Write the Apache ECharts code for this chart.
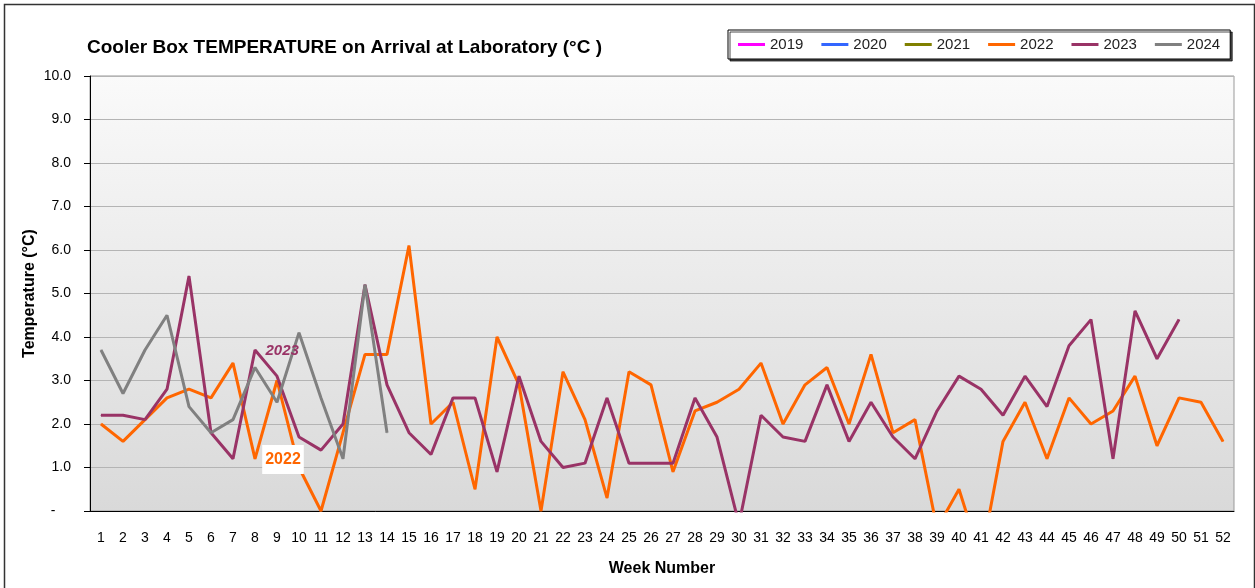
<!DOCTYPE html>
<html>
<head>
    <meta charset="utf-8">
    <title>Cooler Box Temperature</title>
    <script src="https://cdn.jsdelivr.net/npm/echarts@6/dist/echarts.min.js"></script>
    <style>
        html, body { margin: 0; padding: 0; background: #fff; }
    </style>
</head>
<body>
    <div id="main" style="width:1255px;height:588px;"></div>
    <script type="text/javascript">
        // week numbers 1..52
        var weeks = [];
        for (var w = 1; w <= 52; w++) weeks.push(String(w));

        var years = ['2019', '2020', '2021', '2022', '2023', '2024'];
        var yearColors = ['#FF00FF', '#3366FF', '#808000', '#FF6600', '#993366', '#808080'];

        // no readings for 2019-2021 in this chart
        var temp2019 = [];
        var temp2020 = [];
        var temp2021 = [];
        var temp2022 = [2.0, 1.6, 2.1, 2.6, 2.8, 2.6, 3.4, 1.2, 3.0, 1.0,
                        0.0, 1.8, 3.6, 3.6, 6.1, 2.0, 2.5, 0.5, 4.0, 2.9,
                        0.0, 3.2, 2.1, 0.3, 3.2, 2.9, 0.9, 2.3, 2.5, 2.8,
                        3.4, 2.0, 2.9, 3.3, 2.0, 3.6, 1.8, 2.1, -0.4, 0.5,
                        -1.1, 1.6, 2.5, 1.2, 2.6, 2.0, 2.3, 3.1, 1.5, 2.6,
                        2.5, 1.6];
        var temp2023 = [2.2, 2.2, 2.1, 2.8, 5.4, 1.8, 1.2, 3.7, 3.1, 1.7,
                        1.4, 2.0, 5.2, 2.9, 1.8, 1.3, 2.6, 2.6, 0.9, 3.1,
                        1.6, 1.0, 1.1, 2.6, 1.1, 1.1, 1.1, 2.6, 1.7, -0.3,
                        2.2, 1.7, 1.6, 2.9, 1.6, 2.5, 1.7, 1.2, 2.3, 3.1,
                        2.8, 2.2, 3.1, 2.4, 3.8, 4.4, 1.2, 4.6, 3.5, 4.4];
        var temp2024 = [3.7, 2.7, 3.7, 4.5, 2.4, 1.8, 2.1, 3.3, 2.5, 4.1,
                        2.6, 1.2, 5.2, 1.8];

        var yTicks = [0, 1, 2, 3, 4, 5, 6, 7, 8, 9, 10];

        var font = 'Liberation Sans';
        var allData = [temp2019, temp2020, temp2021, temp2022, temp2023, temp2024];

        // point labels naming the series, as in the original sheet
        function withLabel(arr, idx, label) {
            return arr.map(function (v, i) {
                return i === idx ? { value: v, label: label } : v;
            });
        }
        allData[3] = withLabel(temp2022, 9, {
            show: true, formatter: '2022', position: 'inside', offset: [-16, -8],
            color: '#FF6600', fontWeight: 'bold', fontSize: 16, fontFamily: font,
            backgroundColor: '#ffffff', padding: [7, 3, 6, 3]
        });
        allData[4] = withLabel(temp2023, 7, {
            show: true, formatter: '2023', position: 'right', distance: 10, offset: [0, 1],
            color: '#993366', fontWeight: 'bold', fontStyle: 'italic', fontSize: 15, fontFamily: font
        });

        var series = years.map(function (y, i) {
            return {
                name: y,
                type: 'line',
                data: allData[i],
                showSymbol: true,
                showAllSymbol: true,
                symbol: 'circle',
                symbolSize: 1,
                clip: true,
                animation: false,
                label: { show: false },
                lineStyle: { width: 3, color: yearColors[i] },
                itemStyle: { color: yearColors[i] }
            };
        });

        var myChart = echarts.init(document.getElementById('main'));
        var option = {
            animation: false,
            textStyle: { fontFamily: font },
            title: {
                text: 'Cooler Box TEMPERATURE on Arrival at Laboratory (°C )',
                left: 82,
                top: 33,
                textStyle: { fontSize: 19, fontWeight: 'bold', color: '#000', fontFamily: font }
            },
            legend: {
                data: years,
                left: 728,
                top: 30,
                padding: [7, 10, 7, 10],
                itemGap: 18,
                itemWidth: 27,
                itemHeight: 3,
                icon: 'rect',
                backgroundColor: '#fff',
                borderColor: '#000',
                borderWidth: 1,
                shadowColor: 'rgba(0,0,0,0.7)',
                shadowOffsetX: 2,
                shadowOffsetY: 2,
                textStyle: { fontSize: 15, color: '#222', fontFamily: font }
            },
            grid: {
                left: 90,
                top: 76,
                right: 21,
                bottom: 77,
                show: true,
                borderColor: '#999',
                borderWidth: 1,
                backgroundColor: {
                    type: 'linear', x: 0, y: 0, x2: 0, y2: 1,
                    colorStops: [
                        { offset: 0, color: '#fafafa' },
                        { offset: 1, color: '#d9d9d9' }
                    ]
                }
            },
            xAxis: {
                type: 'category',
                data: weeks,
                boundaryGap: true,
                name: 'Week Number',
                nameLocation: 'middle',
                nameGap: 50,
                nameTextStyle: { fontSize: 16, fontWeight: 'bold', color: '#000', fontFamily: font },
                axisLine: { lineStyle: { color: '#000', width: 1 } },
                axisTick: { length: 6, lineStyle: { color: '#000' } },
                axisLabel: { margin: 20, fontSize: 14, color: '#000', interval: 0, fontFamily: font },
                splitLine: { show: false }
            },
            yAxis: {
                type: 'value',
                min: yTicks[0],
                max: yTicks[yTicks.length - 1],
                interval: 1,
                name: 'Temperature (°C)',
                nameLocation: 'middle',
                nameGap: 52,
                nameMoveOverlap: false,
                nameTextStyle: { fontSize: 16, fontWeight: 'bold', color: '#000', fontFamily: font },
                axisLine: { show: true, lineStyle: { color: '#000', width: 1 } },
                axisTick: { show: true, inside: false, length: 6, lineStyle: { color: '#000' } },
                axisLabel: {
                    margin: 19, fontSize: 14, color: '#000', fontFamily: font,
                    formatter: function (v) { return v === 0 ? '-    ' : v.toFixed(1); }
                },
                splitLine: { show: true, lineStyle: { color: '#b4b4b4', width: 1 } }
            },
            graphic: [{
                type: 'rect',
                left: 2, top: 2,
                shape: { width: 1250, height: 590 },
                style: { fill: 'none', stroke: '#333', lineWidth: 1.5 },
                z: 100
            }],
            series: series
        };
        myChart.setOption(option);
    </script>
</body>
</html>
